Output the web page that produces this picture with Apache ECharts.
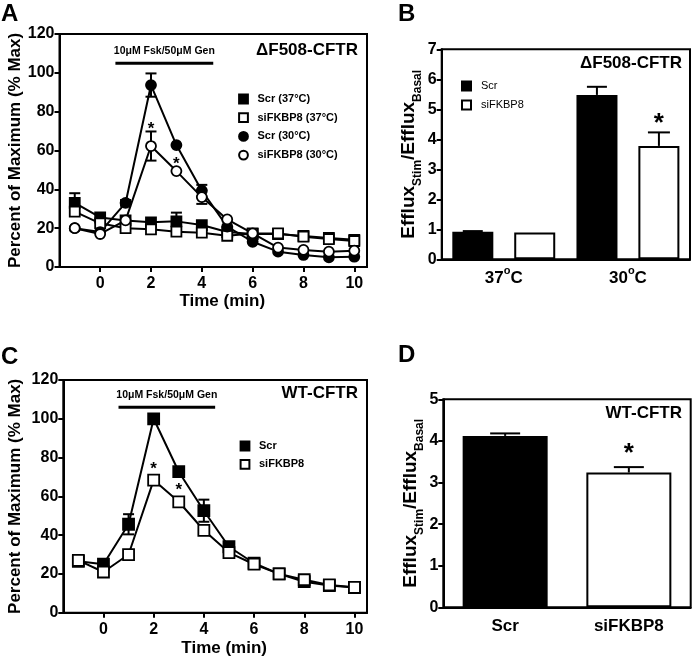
<!DOCTYPE html>
<html>
<head>
<meta charset="utf-8">
<script src="https://cdn.jsdelivr.net/npm/echarts@6/dist/echarts.min.js"></script>
<style>
  html, body { margin: 0; padding: 0; background: #fff; }
  #chart { width: 693px; height: 658px; }
</style>
</head>
<body>
<div id="chart"></div>
<script>
// ---- data ----
const times = [-1, 0, 1, 2, 3, 4, 5, 6, 7, 8, 9, 10];
const xTicks = [0, 2, 4, 6, 8, 10];

// panel A (dF508-CFTR time course)
const aScr37 = [33, 25.5, 24, 23, 23.5, 21.6, 18, 17, 17, 16, 15, 14];
const aSi37 = [28.5, 22.5, 20, 19.4, 18.2, 17.7, 16.1, 17.3, 17.3, 15.6, 14.4, 13.4];
const aScr30 = [20, 18, 33, 93.7, 62.8, 39.3, 20.8, 13, 7.9, 6.2, 5, 5.3];
const aSi30 = [20, 17, 24, 62.3, 49.4, 36, 24.5, 17.3, 10, 8.8, 7.9, 8.4];
const aScr37Err = [5, 0, 0, 0, 4.5, 0, 0, 0, 0, 0, 0, 0];
const aScr30Err = [0, 0, 1.5, 6, 0, 3, 0, 0, 0, 0, 0, 0];
const aSi30Err = [0, 0, 0, 7.5, 0, 3.5, 0, 0, 0, 0, 0, 0];
const aStars = [[2, 73], [3, 55]];
const treatA = [0.6, 105, 4.45];

// panel C (WT-CFTR time course)
const cScr = [26.5, 25, 45.6, 100, 72.7, 52.6, 34, 25.5, 20, 16, 14, 13];
const cSi = [27, 21, 30, 68.4, 57.2, 42.5, 31, 25, 20, 17, 14.3, 13.1];
const cScrErr = [0, 0, 5.2, 0, 0, 5.7, 0, 0, 0, 0, 0, 0];
const cStars = [[2, 76], [3, 65]];
const treatC = [0.6, 106, 4.45];
const treatLabel = '10μM Fsk/50μM Gen';

// panel B (dF508-CFTR efflux ratio)
const bCats = ['37°C', '30°C'];
const bScr = [0.92, 5.48];
const bScrErr = [0.02, 0.27];
const bSi = [0.89, 3.78];
const bSiErr = [0, 0.45];
const bStars = [[1, 4.7]];

// panel D (WT-CFTR efflux ratio)
const dCats = ['Scr', 'siFKBP8'];
const dMean = [4.12, 3.24];
const dErr = [0.06, 0.13];
const dStars = [[1, 3.82]];

const FONT = '"Liberation Sans", Arial, Helvetica, sans-serif';
const chart = echarts.init(document.getElementById('chart'));

const boldText = (size) => ({ color: '#000', fontFamily: FONT, fontWeight: 'bold', fontSize: size });
const blackLine = { color: '#000', width: 2 };

function grid(left, top, width, height) {
  return { left, top, width, height, show: true, borderColor: '#000', borderWidth: 2, outerBoundsMode: 'none' };
}

function timeAxis(gi, gap) {
  return {
    type: 'value', gridIndex: gi, min: -1.6, max: 10.5,
    name: 'Time (min)', nameLocation: 'middle', nameGap: gap,
    nameTextStyle: Object.assign(boldText(17), { padding: [0, 0, 0, 18] }),
    axisLine: { show: true, onZero: false, lineStyle: blackLine },
    axisTick: { show: true, length: 5, lineStyle: blackLine, customValues: xTicks },
    axisLabel: Object.assign(boldText(16), { margin: 9, customValues: xTicks }),
    splitLine: { show: false }
  };
}

function pctAxis(gi, gap) {
  return {
    type: 'value', gridIndex: gi, min: 0, max: 120, interval: 20,
    name: 'Percent of Maximum (% Max)', nameLocation: 'middle', nameGap: gap, nameRotate: 90,
    nameTextStyle: boldText(17),
    axisLine: { show: true, onZero: false, lineStyle: blackLine },
    axisTick: { show: true, length: 5, lineStyle: blackLine },
    axisLabel: Object.assign(boldText(16), { margin: 5 }),
    splitLine: { show: false }
  };
}

function ratioAxis(gi, max, gap) {
  return {
    type: 'value', gridIndex: gi, min: 0, max: max, interval: 1,
    name: '{a|Efflux}{s|Stim}{a|/Efflux}{s|Basal}', nameLocation: 'middle', nameGap: gap, nameRotate: 90,
    nameTextStyle: {
      rich: {
        a: Object.assign(boldText(19), { lineHeight: 30, verticalAlign: 'middle' }),
        s: Object.assign(boldText(12), { lineHeight: 12, verticalAlign: 'bottom' })
      }
    },
    axisLine: { show: true, onZero: false, lineStyle: blackLine },
    axisTick: { show: true, length: 5, lineStyle: blackLine },
    axisLabel: Object.assign(boldText(16), { margin: 5 }),
    splitLine: { show: false }
  };
}

function catAxis(gi, cats) {
  return {
    type: 'category', gridIndex: gi, data: cats,
    axisLine: { show: true, onZero: false, lineStyle: blackLine },
    axisTick: { show: false },
    axisLabel: {
      margin: 6,
      formatter: (v) => v.indexOf('°') >= 0 ? '{n|' + v.replace('°', '}{sup|o}{n|') + '}' : '{n|' + v + '}',
      rich: {
        n: Object.assign(boldText(17), { lineHeight: 22, verticalAlign: 'bottom' }),
        sup: Object.assign(boldText(11), { lineHeight: 11, verticalAlign: 'top' })
      }
    },
    splitLine: { show: false }
  };
}

function lineSeries(name, vals, symbol, filled, gi, size) {
  return {
    name, type: 'line', xAxisIndex: gi, yAxisIndex: gi,
    data: times.map((t, i) => [t, vals[i]]),
    symbol, symbolSize: size, showAllSymbol: true,
    lineStyle: { color: '#000', width: 2 },
    itemStyle: { color: filled ? '#000' : '#fff', borderColor: '#000', borderWidth: 1.8 },
    z: 3
  };
}

// symmetric error bars on the time courses
function errSeries(vals, errs, gi, capW) {
  const data = [];
  times.forEach((t, i) => { if (errs[i] > 0) data.push([t, vals[i] - errs[i], vals[i] + errs[i]]); });
  return {
    type: 'custom', xAxisIndex: gi, yAxisIndex: gi, data, z: 2, silent: true,
    renderItem: (params, api) => {
      const lo = api.coord([api.value(0), api.value(1)]);
      const hi = api.coord([api.value(0), api.value(2)]);
      const h = capW / 2;
      const st = { stroke: '#000', lineWidth: 2 };
      return { type: 'group', children: [
        { type: 'line', shape: { x1: lo[0], y1: lo[1], x2: hi[0], y2: hi[1] }, style: st },
        { type: 'line', shape: { x1: hi[0] - h, y1: hi[1], x2: hi[0] + h, y2: hi[1] }, style: st },
        { type: 'line', shape: { x1: lo[0] - h, y1: lo[1], x2: lo[0] + h, y2: lo[1] }, style: st }
      ] };
    }
  };
}

// upward error bars on the bar charts
function barErrSeries(means, errs, gi, offset, capW) {
  const data = [];
  means.forEach((m, i) => { if (errs[i] > 0) data.push([i, m, m + errs[i]]); });
  return {
    type: 'custom', xAxisIndex: gi, yAxisIndex: gi, data, z: 1, silent: true,
    renderItem: (params, api) => {
      const lo = api.coord([api.value(0), api.value(1)]);
      const hi = api.coord([api.value(0), api.value(2)]);
      const x = lo[0] + offset, h = capW / 2;
      const st = { stroke: '#000', lineWidth: 2 };
      return { type: 'group', children: [
        { type: 'line', shape: { x1: x, y1: lo[1], x2: x, y2: hi[1] }, style: st },
        { type: 'line', shape: { x1: x - h, y1: hi[1], x2: x + h, y2: hi[1] }, style: st }
      ] };
    }
  };
}

function starSeries(pts, gi, offset, size) {
  return {
    type: 'custom', xAxisIndex: gi, yAxisIndex: gi, data: pts, z: 5, silent: true,
    renderItem: (params, api) => {
      const p = api.coord([api.value(0), api.value(1)]);
      return { type: 'text', x: p[0] + offset, y: p[1] + size * 0.22,
        style: { text: '*', fill: '#000', font: 'bold ' + size + 'px ' + FONT, align: 'center', verticalAlign: 'middle' } };
    }
  };
}

function treatSeries(tr, gi) {
  return {
    type: 'custom', xAxisIndex: gi, yAxisIndex: gi, data: [tr], z: 4, silent: true,
    renderItem: (params, api) => {
      const p0 = api.coord([api.value(0), api.value(1)]);
      const p1 = api.coord([api.value(2), api.value(1)]);
      return { type: 'group', children: [
        { type: 'line', shape: { x1: p0[0], y1: p0[1], x2: p1[0], y2: p1[1] }, style: { stroke: '#000', lineWidth: 3 } },
        { type: 'text', x: (p0[0] + p1[0]) / 2, y: p0[1] - 12.5,
          style: { text: treatLabel, fill: '#000', font: 'bold 10.5px ' + FONT, align: 'center', verticalAlign: 'middle' } }
      ] };
    }
  };
}

function label(text, left, top, size, right) {
  const t = { text, top, padding: 0, textStyle: Object.assign(boldText(size), { lineHeight: size + 1 }) };
  if (right) t.right = left; else t.left = left;
  return t;
}

const option = {
  animation: false,
  backgroundColor: '#fff',
  textStyle: { fontFamily: FONT },
  title: [
    label('A', 1, 1.5, 24), label('B', 398, 1.5, 24),
    label('C', 1, 344.5, 24), label('D', 398, 343, 24),
    label('ΔF508-CFTR', 335, 41, 17, true), label('ΔF508-CFTR', 11, 54.5, 17, true),
    label('WT-CFTR', 335, 384, 17, true), label('WT-CFTR', 11, 404, 17, true)
  ],
  legend: [
    {
      data: ['Scr (37°C)', 'siFKBP8 (37°C)', 'Scr (30°C)', 'siFKBP8 (30°C)'],
      left: 233.5, top: 93.5, orient: 'vertical', padding: 0,
      itemWidth: 18, itemHeight: 11, itemGap: 7.7, selectedMode: false,
      lineStyle: { opacity: 0 },
      textStyle: boldText(11)
    },
    {
      data: ['B:Scr', 'B:siFKBP8'], formatter: (n) => n.slice(2),
      left: 461, top: 80.5, orient: 'vertical', padding: 0, icon: 'rect',
      itemWidth: 9, itemHeight: 9, itemGap: 8, selectedMode: false,
      textStyle: { color: '#000', fontFamily: FONT, fontSize: 11, padding: [0, 0, 0, 5] }
    },
    {
      data: ['Scr', 'siFKBP8'],
      left: 235, top: 440.5, orient: 'vertical', padding: 0,
      itemWidth: 18, itemHeight: 11, itemGap: 7.3, selectedMode: false,
      lineStyle: { opacity: 0 },
      textStyle: boldText(11)
    }
  ],
  grid: [
    grid(59.5, 34, 307.5, 233),
    grid(441.7, 49.3, 248.3, 210),
    grid(63.3, 380, 303.7, 232.7),
    grid(443.3, 399.3, 247.4, 208)
  ],
  xAxis: [timeAxis(0, 26), catAxis(1, bCats), timeAxis(2, 27), catAxis(3, dCats)],
  yAxis: [pctAxis(0, 36), ratioAxis(1, 7, 15), pctAxis(2, 39), ratioAxis(3, 5, 16.5)],
  series: [
    // A
    errSeries(aScr37, aScr37Err, 0, 11),
    errSeries(aScr30, aScr30Err, 0, 11),
    errSeries(aSi30, aSi30Err, 0, 11),
    lineSeries('Scr (37°C)', aScr37, 'rect', true, 0, 10),
    lineSeries('siFKBP8 (37°C)', aSi37, 'rect', false, 0, 10),
    lineSeries('Scr (30°C)', aScr30, 'circle', true, 0, 10),
    lineSeries('siFKBP8 (30°C)', aSi30, 'circle', false, 0, 10),
    treatSeries(treatA, 0),
    starSeries(aStars, 0, 0, 17),
    // B
    {
      name: 'B:Scr', type: 'bar', xAxisIndex: 1, yAxisIndex: 1, data: bScr,
      barWidth: 41, barGap: '51%', z: 2,
      itemStyle: { color: '#000', borderColor: '#000', borderWidth: 2 }
    },
    {
      name: 'B:siFKBP8', type: 'bar', xAxisIndex: 1, yAxisIndex: 1, data: bSi,
      barWidth: 41, barGap: '51%', z: 2,
      itemStyle: { color: '#fff', borderColor: '#000', borderWidth: 2 }
    },
    barErrSeries(bScr, bScrErr, 1, -31, 20),
    barErrSeries(bSi, bSiErr, 1, 31, 22),
    starSeries(bStars, 1, 31, 26),
    // C
    errSeries(cScr, cScrErr, 2, 11),
    lineSeries('Scr', cScr, 'rect', true, 2, 11),
    lineSeries('siFKBP8', cSi, 'rect', false, 2, 11),
    treatSeries(treatC, 2),
    starSeries(cStars, 2, 0, 17),
    // D
    {
      name: 'D', type: 'bar', xAxisIndex: 3, yAxisIndex: 3, barWidth: 85, z: 2,
      data: dMean.map((v, i) => ({ value: v, itemStyle: { color: i === 0 ? '#000' : '#fff' } })),
      itemStyle: { borderColor: '#000', borderWidth: 2 }
    },
    barErrSeries(dMean, dErr, 3, 0, 30),
    starSeries(dStars, 3, 0, 26)
  ]
};

chart.setOption(option);
</script>
</body>
</html>
